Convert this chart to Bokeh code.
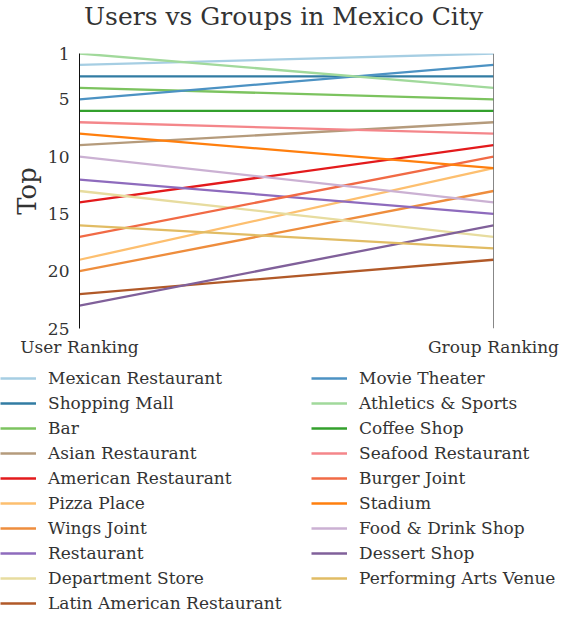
from bokeh.plotting import figure
from bokeh.models import (Range1d, FixedTicker, Span, Legend, LegendItem, Div)
from bokeh.layouts import column
from bokeh.embed import file_html
from bokeh.resources import INLINE

title_text = "Users vs Groups in Mexico City"
categories = [
    "Mexican Restaurant", "Shopping Mall", "Bar", "Asian Restaurant",
    "American Restaurant", "Pizza Place", "Wings Joint", "Restaurant",
    "Department Store", "Latin American Restaurant",
    "Movie Theater", "Athletics & Sports", "Coffee Shop", "Seafood Restaurant",
    "Burger Joint", "Stadium", "Food & Drink Shop", "Dessert Shop",
    "Performing Arts Venue",
]
user_rank = [2, 3, 4, 9, 14, 19, 20, 12, 13, 22,
             5, 1, 6, 7, 17, 8, 10, 23, 16]
group_rank = [1, 3, 5, 7, 9, 11, 13, 15, 17, 19,
              2, 4, 6, 8, 10, 11, 14, 16, 18]
x_labels = ["User Ranking", "Group Ranking"]
y_ticks = [1, 5, 10, 15, 20, 25]

colors = [
    "#a6cee3", "#327ca3", "#7cc35f", "#b59b7c", "#e31a1c", "#fdbf6f",
    "#ee8d3d", "#8e6bbd", "#e7dc9f", "#b15928",
    "#4c92c3", "#a1d99b", "#33a02c", "#f4868a", "#f16a45", "#ff7f0e",
    "#cbb1d3", "#80609a", "#e1bc64",
]

FONT = "DejaVu Serif"
TXT = "#333333"

title_div = Div(text=title_text, width=560, height=34, margin=(0, 0, 0, 0),
                styles={"font-family": FONT, "font-size": "25px",
                        "color": TXT, "text-align": "center",
                        "line-height": "34px", "width": "560px",
                        "padding-left": "7px", "box-sizing": "border-box",
                        "white-space": "nowrap"})

p = figure(width=560, height=325, output_backend="svg", toolbar_location=None,
           x_range=Range1d(0, 1), y_range=Range1d(25, 1),
           min_border_left=79, min_border_right=67, min_border_top=19,
           min_border_bottom=31)
p.frame_align = False
p.outline_line_color = None
p.xgrid.visible = False
p.ygrid.visible = False

renderers = []
for i, c in enumerate(categories):
    r = p.line([0, 1], [user_rank[i], group_rank[i]], line_color=colors[i],
               line_width=2.3)
    renderers.append(r)

p.add_layout(Span(location=1, dimension="height", line_color="#111111",
                  line_width=1))

ya = p.yaxis[0]
ya.ticker = FixedTicker(ticks=y_ticks)
ya.axis_line_color = "#111111"
ya.major_tick_line_color = None
ya.minor_tick_line_color = None
ya.major_tick_out = 0
ya.major_tick_in = 0
ya.major_label_text_font = FONT
ya.major_label_text_font_size = "17px"
ya.major_label_text_color = TXT
ya.major_label_standoff = 10
ya.axis_label = "Top"
ya.axis_label_text_font = FONT
ya.axis_label_text_font_size = "26px"
ya.axis_label_text_font_style = "normal"
ya.axis_label_text_color = TXT
ya.axis_label_standoff = 3

xa = p.xaxis[0]
xa.ticker = FixedTicker(ticks=[0, 1])
xa.major_label_overrides = {0: x_labels[0], 1: x_labels[1]}
xa.axis_line_color = None
xa.major_tick_line_color = None
xa.minor_tick_line_color = None
xa.major_tick_out = 0
xa.major_tick_in = 0
xa.major_label_text_font = FONT
xa.major_label_text_font_size = "17px"
xa.major_label_text_color = TXT
xa.major_label_standoff = 8

# Legend panel (frame spans the whole width so the legends are not clipped)
p2 = figure(width=560, height=254, output_backend="svg", toolbar_location=None,
            x_range=Range1d(0, 1), y_range=Range1d(0, 1),
            min_border_left=0, min_border_right=0, min_border_top=0,
            min_border_bottom=0)
p2.frame_align = False
p2.axis.visible = False
p2.grid.visible = False
p2.outline_line_color = None

leg_renderers = []
for i, c in enumerate(categories):
    # same series, drawn outside this panel's visible range; only the legend glyph shows
    r = p2.line([0, 1], [-user_rank[i], -group_rank[i]], line_color=colors[i],
                line_width=2.5)
    leg_renderers.append(r)

def make_legend(idx, loc):
    items = [LegendItem(label=categories[i], renderers=[leg_renderers[i]]) for i in idx]
    lg = Legend(items=items, location=loc, orientation="vertical")
    lg.label_text_font = FONT
    lg.label_text_font_size = "17px"
    lg.label_text_color = TXT
    lg.glyph_width = 36
    lg.glyph_height = 20
    lg.label_height = 20
    lg.label_standoff = 12
    lg.spacing = 5
    lg.padding = 0
    lg.margin = 0
    lg.border_line_alpha = 0
    lg.background_fill_alpha = 0
    return lg

p2.add_layout(make_legend(range(0, 10), (0, 0)))
p2.add_layout(make_legend(range(10, 19), (311, 25)))

layout = column(title_div, p, p2, spacing=0)
open("out.html", "w").write(file_html(layout, INLINE))
